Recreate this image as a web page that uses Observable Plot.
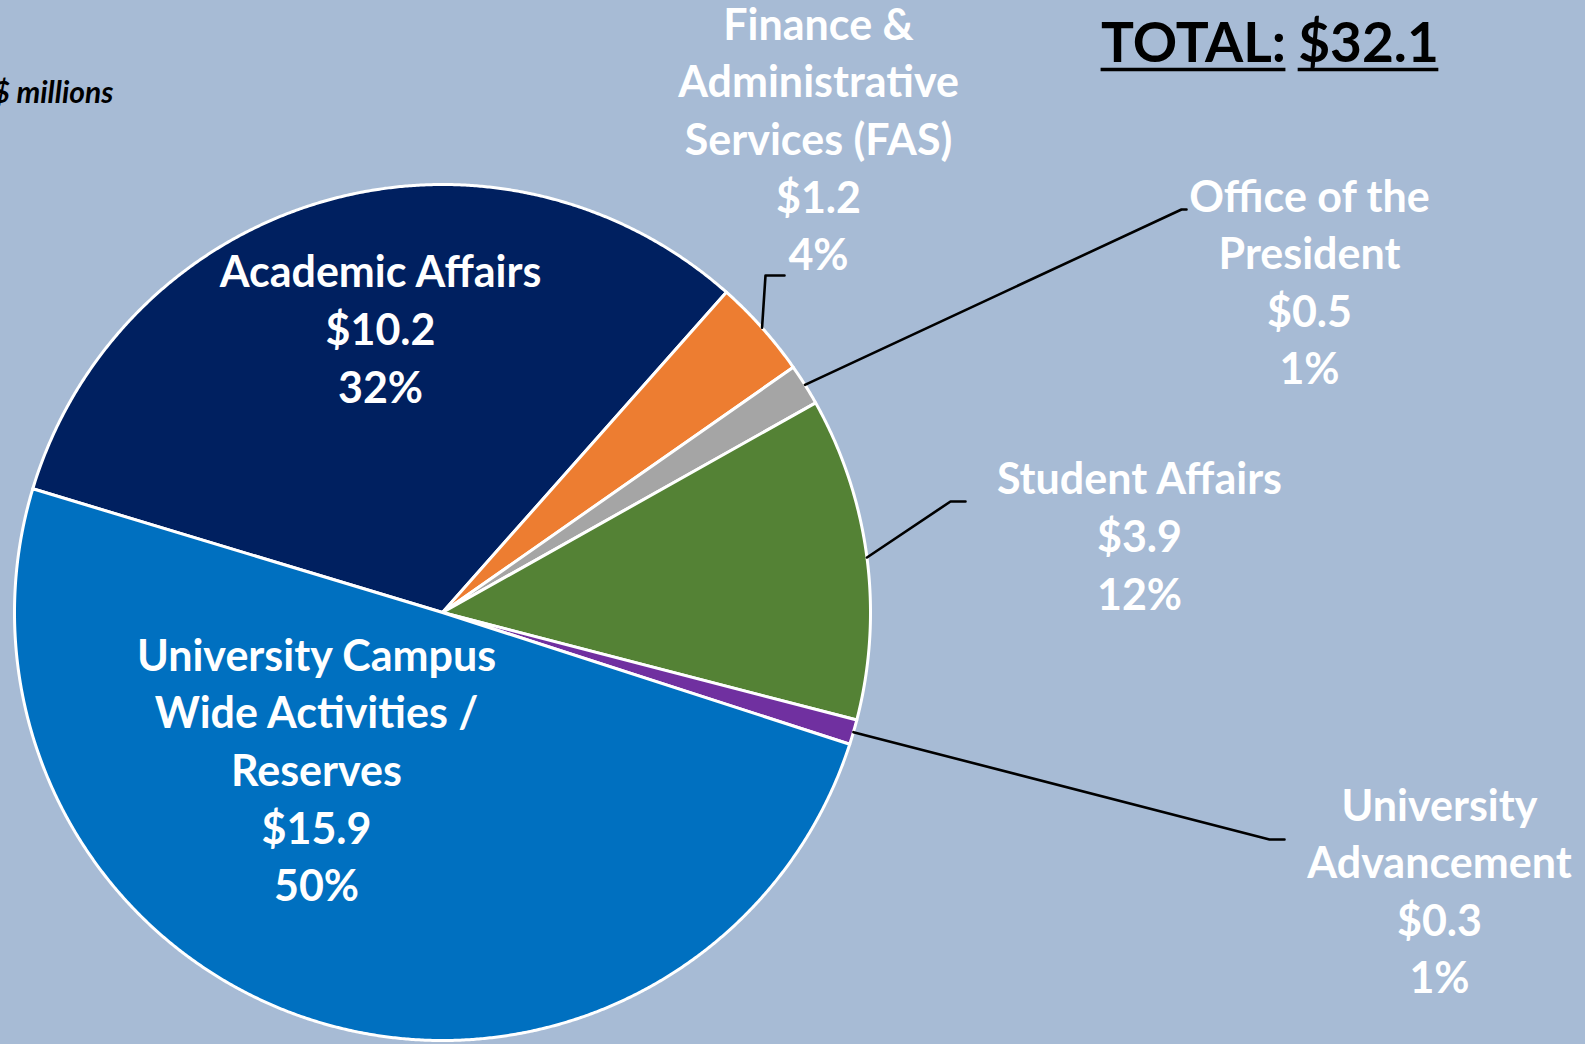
<!DOCTYPE html>
<html><head><meta charset="utf-8">
<script src="https://cdn.jsdelivr.net/npm/d3@7"></script>
<script src="https://cdn.jsdelivr.net/npm/@observablehq/plot@0.6"></script>
<style>
html,body{margin:0;padding:0;background:#A7BBD5;overflow:hidden}
#chart svg{display:block}
</style></head><body><div id="chart"></div>
<script>
// ---- data ----
const categories = [
  "Academic Affairs",
  "Finance & Administrative Services (FAS)",
  "Office of the President",
  "Student Affairs",
  "University Advancement",
  "University Campus Wide Activities / Reserves"
];
const values = [10.2, 1.2, 0.5, 3.9, 0.3, 15.9];
const valueLabels = ["$10.2", "$1.2", "$0.5", "$3.9", "$0.3", "$15.9"];
const percentLabels = ["32%", "4%", "1%", "12%", "1%", "50%"];
const categoryLines = [
  "Academic Affairs",
  "Finance &\nAdministrative\nServices (FAS)",
  "Office of the\nPresident",
  "Student Affairs",
  "University\nAdvancement",
  "University Campus\nWide Activities /\nReserves"
];
const totalWord = "TOTAL:";
const totalValue = "$32.1";
const unitLabel = "$ millions";

// ---- styles / layout ----
const colors = ["#002060", "#ED7D31", "#A5A5A5", "#548235", "#7030A0", "#0070C0"];
const W = 1585, H = 1044;
const CX = 442, CY = 612, R = 428;
const START_DEG = -73.2;
const LABEL_SIZE = 43, TOTAL_SIZE = 55, UNIT_SIZE = 30;
// label block centres (page pixels)
const labelPos = [
  [380, 326], [818, 136], [1309, 279], [1139, 533], [1439, 888], [316, 767]
];
// leader elbows & ends (page pixels); null = no leader
const leaderPos = [
  null,
  [[765, 275], [784, 275]],
  [[1181, 209], [1186, 209]],
  [[950, 501], [965, 501]],
  [[1269, 839], [1284, 839]],
  null
];
const totalPos = [[1193, 44], [1368, 44]];
const underlineY = 69;
const px2x = px => (px - CX) / R;
const px2y = py => (CY - py) / R;

const font = "Lato, 'Open Sans', sans-serif";
const ctx = document.createElement("canvas").getContext("2d");
ctx.font = `bold ${TOTAL_SIZE}px Lato`;
const textW = s => ctx.measureText(s).width;

const data = categories.map((name, i) => ({name, value: values[i], i}));
const a0 = START_DEG * Math.PI / 180;
const arcs = d3.pie().sort(null).value(d => d.value).startAngle(a0).endAngle(a0 + 2 * Math.PI)(data);

const slicePts = [];
for (const s of arcs) {
  slicePts.push({name: s.data.name, x: 0, y: 0});
  const n = Math.max(4, Math.ceil((s.endAngle - s.startAngle) / (0.25 * Math.PI / 180)));
  for (let k = 0; k <= n; k++) {
    const a = s.startAngle + (s.endAngle - s.startAngle) * k / n;
    slicePts.push({name: s.data.name, x: Math.sin(a), y: Math.cos(a)});
  }
}

const leaderPts = [];
arcs.forEach((s, i) => {
  const lp = leaderPos[i];
  if (!lp) return;
  const m = (s.startAngle + s.endAngle) / 2;
  leaderPts.push({name: s.data.name, x: Math.sin(m), y: Math.cos(m)});
  for (const [px, py] of lp) leaderPts.push({name: s.data.name, x: px2x(px), y: px2y(py)});
});

const labels = data.map((d, i) => ({
  text: categoryLines[i] + "\n" + valueLabels[i] + "\n" + percentLabels[i],
  x: px2x(labelPos[i][0]), y: px2y(labelPos[i][1])
}));

const totals = [totalWord, totalValue].map((t, i) => ({
  text: t, x: px2x(totalPos[i][0]), y: px2y(totalPos[i][1]),
  x1: px2x(totalPos[i][0] - textW(t) / 2), x2: px2x(totalPos[i][0] + textW(t) / 2), yu: px2y(underlineY)
}));

const plot = Plot.plot({
  width: W, height: H, margin: 0,
  x: {domain: [px2x(0), px2x(W)], range: [0, W], axis: null},
  y: {domain: [px2y(H), px2y(0)], range: [H, 0], axis: null},
  color: {domain: categories, range: colors},
  style: {background: "transparent", overflow: "visible"},
  marks: [
    Plot.line(slicePts, {x: "x", y: "y", z: "name", fill: "name", stroke: "white", strokeWidth: 3,
      curve: "linear-closed", strokeLinejoin: "round"}),
    Plot.line(leaderPts, {x: "x", y: "y", z: "name", stroke: "black", strokeWidth: 2.6}),
    Plot.text(labels, {x: "x", y: "y", text: "text", fill: "white", fontSize: LABEL_SIZE, fontWeight: "bold",
      fontFamily: font, lineHeight: 1.34, lineAnchor: "middle", textAnchor: "middle"}),
    Plot.text(totals, {x: "x", y: "y", text: "text", fill: "black", fontSize: TOTAL_SIZE,
      fontWeight: "bold", fontFamily: font, lineAnchor: "middle"}),
    Plot.ruleY(totals, {x1: "x1", x2: "x2", y: "yu", stroke: "black", strokeWidth: 3.5}),
    Plot.text([unitLabel], {x: px2x(-8), y: px2y(93), text: d => d, fill: "black", fontSize: UNIT_SIZE,
      fontWeight: "bold", fontStyle: "italic", fontFamily: font, textAnchor: "start", lineAnchor: "middle"})
  ]
});
document.getElementById("chart").appendChild(plot);
</script>
</body></html>
